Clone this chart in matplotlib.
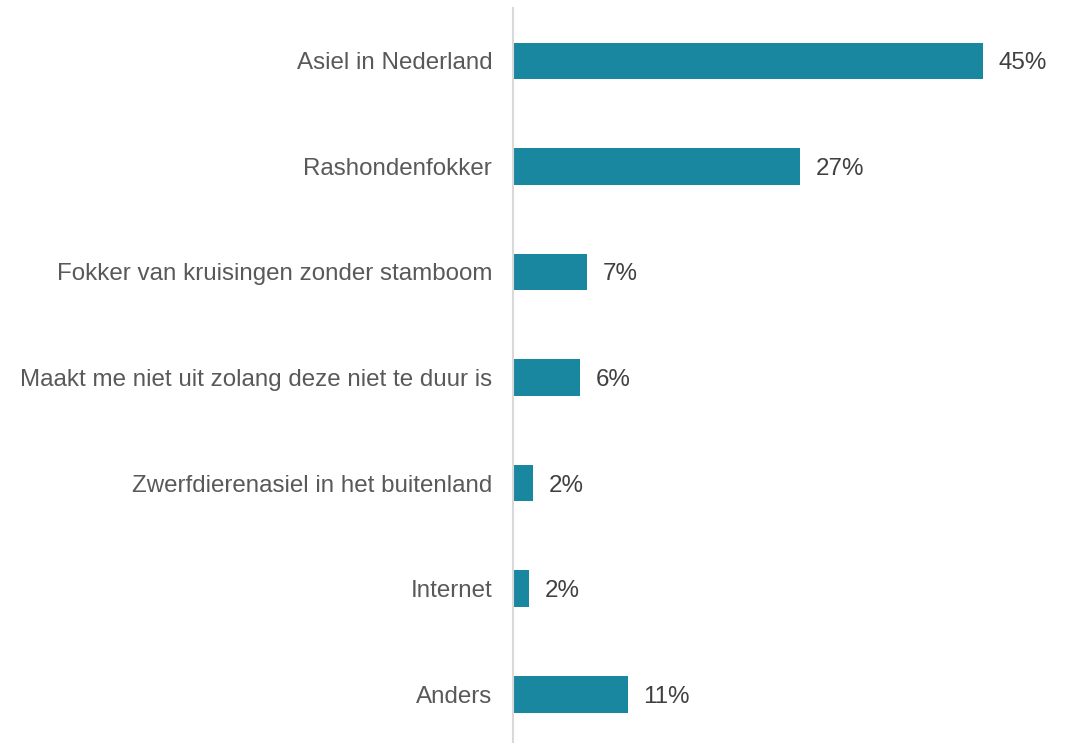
import matplotlib.pyplot as plt

# Waar zou u een hond vandaan halen?
categories = [
    "Asiel in Nederland",
    "Rashondenfokker",
    "Fokker van kruisingen zonder stamboom",
    "Maakt me niet uit zolang deze niet te duur is",
    "Zwerfdierenasiel in het buitenland",
    "Internet",
    "Anders",
]
shares = [45.0, 27.45, 7.1, 6.4, 1.9, 1.5, 11.0]

plt.rcParams["font.family"] = ["Liberation Sans", "DejaVu Sans"]

fig = plt.figure(figsize=(10.76, 7.43), dpi=100)
ax = fig.add_axes([513 / 1076, 0, 1 - 513 / 1076, 1 - 8 / 743])

pos = range(len(categories))
ax.barh(pos, shares, height=0.35, color="#1a87a0")

for y, v in zip(pos, shares):
    ax.text(v + 1.5, y, f"{v:.0f}%", va="center_baseline", ha="left",
            fontsize=17.4, color="#404040")

ax.set_yticks(list(pos))
ax.set_yticklabels(categories, fontsize=17.4, color="#595959")
ax.tick_params(axis="y", length=0, pad=15)
ax.set_xticks([])
ax.set_xlim(0, 563 / (470 / 45))
ax.set_ylim(6.464, -0.502)

for side in ["top", "right", "bottom"]:
    ax.spines[side].set_visible(False)
ax.spines["left"].set_color("#d9d9d9")
ax.spines["left"].set_linewidth(1.5)

fig.savefig("out.png", dpi=100)
